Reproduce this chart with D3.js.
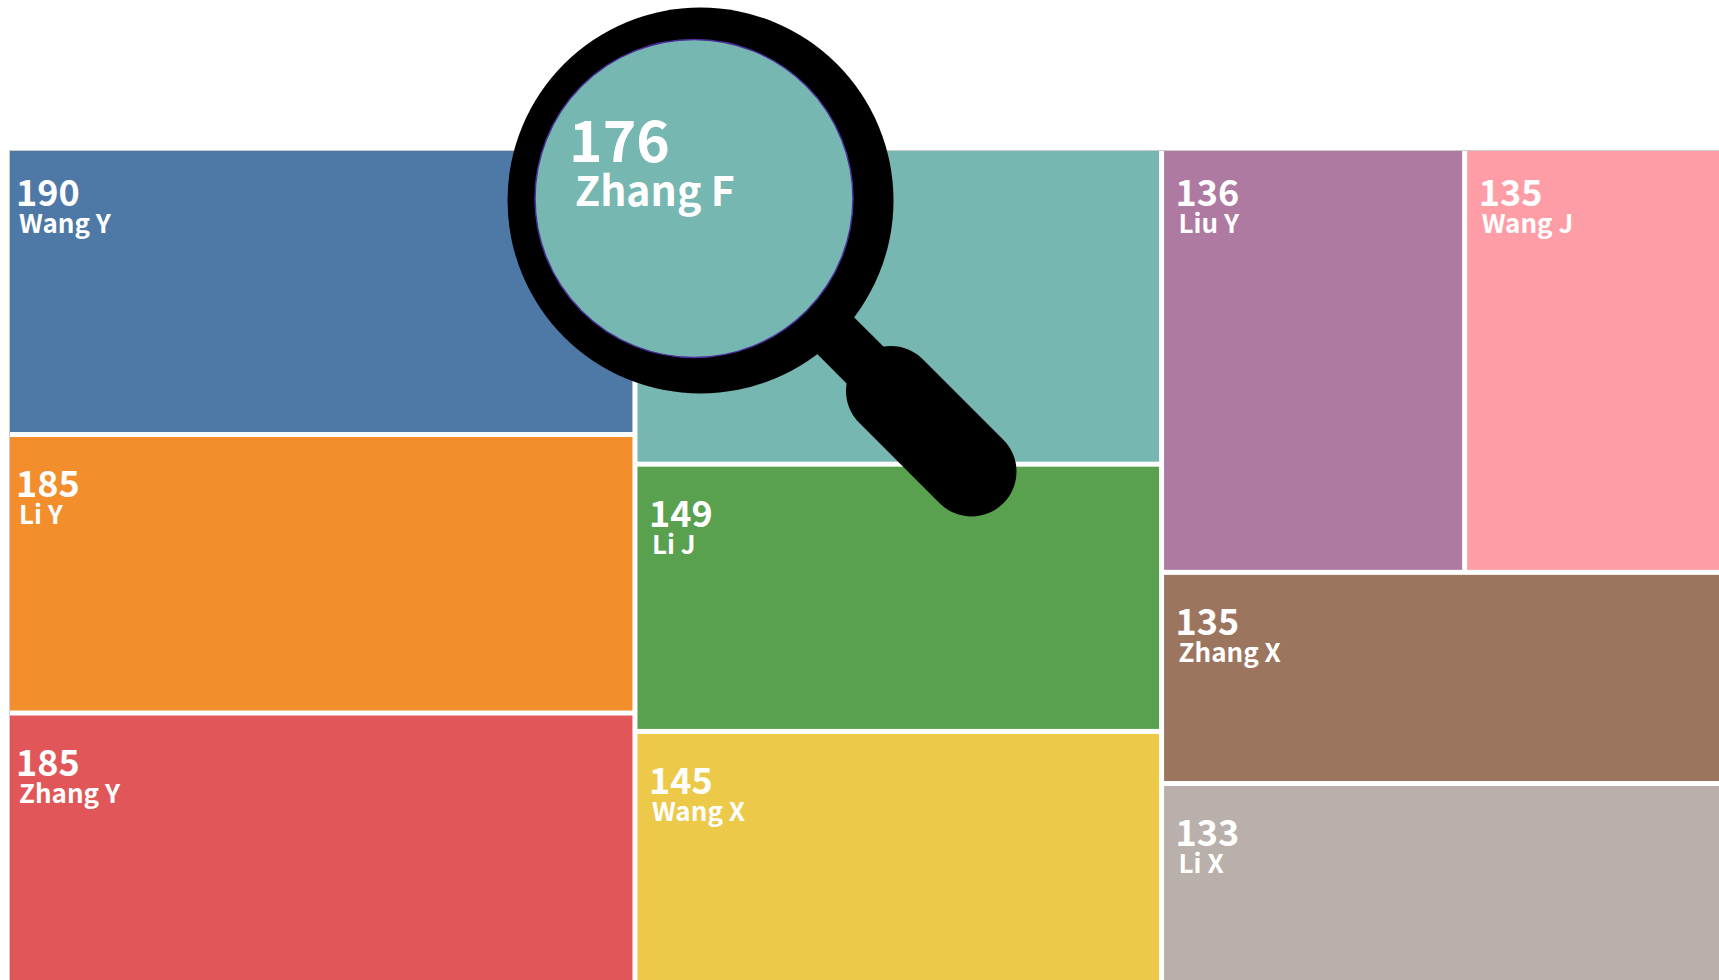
<!DOCTYPE html>
<html>
<head>
<meta charset="utf-8">
<script src="https://cdn.jsdelivr.net/npm/d3@7"></script>
<style>
  html, body { margin: 0; padding: 0; background: #fff; overflow: hidden; }
  text { font-family: "Noto Sans CJK SC", "Noto Sans", sans-serif; font-weight: 700; fill: #fff; }
</style>
</head>
<body>
<div id="chart"></div>
<script>
var names = ['Wang Y', 'Li Y', 'Zhang Y', 'Zhang F', 'Li J', 'Wang X', 'Liu Y', 'Wang J', 'Zhang X', 'Li X'];
var values = [190, 185, 185, 176, 149, 145, 136, 135, 135, 133];
// how the leaves are grouped: column -> rows, a nested array is one row split sideways
var columns = [
  [0, 1, 2],
  [3, 4, 5],
  [[6, 7], 8, 9]
];
var focus_index = 3;

var width = 1719, height = 980;
var margin = {top: 151, left: 10};

function leaf(i){
  return {name: names[i], value: values[i], index: i};
}
function group(item){
  if (Array.isArray(item)) return {children: item.map(group)};
  return leaf(item);
}
var root = d3.hierarchy({children: columns.map(group)})
  .sum(function(d){ return d.value; });

// slice and dice swaps direction per depth: columns, then rows, then the split row
d3.treemap()
  .tile(d3.treemapSliceDice)
  .size([1753, 838])
  .paddingInner(5)(root);

var color = d3.scaleOrdinal(d3.schemeTableau10).domain(d3.range(names.length));

var svg = d3.select('#chart').append('svg')
  .attr('width', width)
  .attr('height', height);

var g = svg.append('g')
  .attr('transform', 'translate(' + margin.left + ',' + margin.top + ')');

// thin grey frame behind the cells
g.append('rect')
  .attr('x', root.x0 - 0.5)
  .attr('y', root.y0 - 0.5)
  .attr('width', root.x1 - root.x0 + 1)
  .attr('height', root.y1 - root.y0 + 1)
  .attr('fill', '#fff')
  .attr('stroke', '#ccc');

var cell = g.selectAll('.cell')
  .data(root.leaves())
  .enter().append('g')
  .attr('class', 'cell')
  .attr('transform', function(d){ return 'translate(' + d.x0 + ',' + d.y0 + ')'; });

cell.append('rect')
  .attr('width', function(d){ return d.x1 - d.x0; })
  .attr('height', function(d){ return d.y1 - d.y0; })
  .attr('fill', function(d){ return color(d.data.index); });

// labels sit a little further in for every cell off the top and left edges
function label_x(d, x){
  return d.x0 > 0 ? x + 5.5 : x;
}
function label_y(d, y){
  return d.y0 > 0 ? y + 5 : y;
}

cell.append('text')
  .attr('x', function(d){ return label_x(d, 6); })
  .attr('y', function(d){ return label_y(d, 55); })
  .attr('font-size', 36)
  .text(function(d){ return d.data.value; });

cell.append('text')
  .attr('x', function(d){ return label_x(d, 9); })
  .attr('y', function(d){ return label_y(d, 82); })
  .attr('font-size', 26)
  .text(function(d){ return d.data.name; });

// magnifying glass over the focus cell
var lens = {x: 700.5, y: 200.5, r: 193};
var handle = {x0: 891, y0: 391, x1: 971.5, y1: 471.5};
var mag = svg.append('g').attr('class', 'magnifier');

mag.append('line')
  .attr('x1', lens.x).attr('y1', lens.y)
  .attr('x2', handle.x0).attr('y2', handle.y0)
  .attr('stroke', '#000')
  .attr('stroke-width', 52);

mag.append('line')
  .attr('x1', handle.x0).attr('y1', handle.y0)
  .attr('x2', handle.x1).attr('y2', handle.y1)
  .attr('stroke', '#000')
  .attr('stroke-width', 90)
  .attr('stroke-linecap', 'round');

mag.append('circle')
  .attr('cx', lens.x).attr('cy', lens.y).attr('r', lens.r)
  .attr('fill', '#000');

mag.append('circle')
  .attr('cx', 694).attr('cy', 198.5).attr('r', 159)
  .attr('fill', color(focus_index))
  .attr('stroke', '#4b2e9b')
  .attr('stroke-width', 1.5);

mag.append('text')
  .attr('x', 569)
  .attr('y', 162)
  .attr('font-size', 57)
  .text(values[focus_index]);

mag.append('text')
  .attr('x', 575)
  .attr('y', 206)
  .attr('font-size', 41)
  .text(names[focus_index]);
</script>
</body>
</html>
